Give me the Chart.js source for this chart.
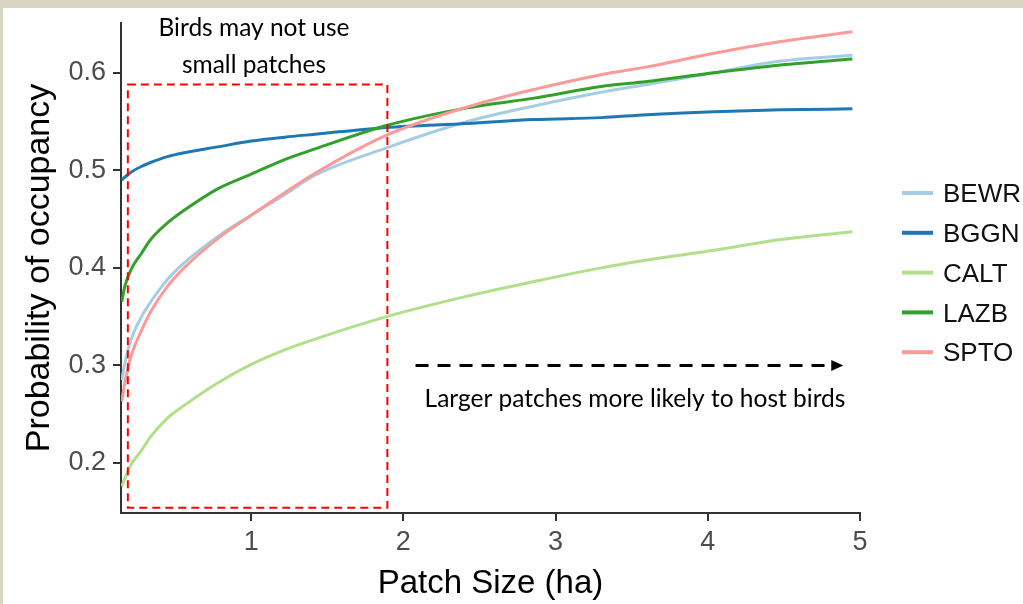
<!DOCTYPE html>
<html>
<head>
<meta charset="utf-8">
<script src="https://cdn.jsdelivr.net/npm/chart.js@4.4.1/dist/chart.umd.min.js"></script>
<style>
  html, body { margin: 0; padding: 0; background: #d8d6c2; }
  #wrap { position: absolute; left: 3px; top: 8px; width: 1020px; height: 596px; background: #fff; }
</style>
</head>
<body>
<div id="wrap"><canvas id="myChart"></canvas></div>
<script>
// patch size (ha) where the curves were read
const patchSize = [0.15, 0.17, 0.21, 0.28, 0.34, 0.45, 0.56, 0.78, 1.0, 1.22, 1.42, 1.89, 2.42, 2.86, 3.3, 3.6, 4.04, 4.48, 4.95];

// probability of occupancy per species
const BEWR = [0.285, 0.302, 0.326, 0.350, 0.365, 0.388, 0.405, 0.432, 0.454, 0.475, 0.495, 0.523, 0.550, 0.566, 0.580, 0.588, 0.600, 0.612, 0.618];
const BGGN = [0.490, 0.493, 0.498, 0.504, 0.508, 0.514, 0.518, 0.524, 0.530, 0.534, 0.537, 0.544, 0.548, 0.552, 0.554, 0.557, 0.560, 0.562, 0.563];
const CALT = [0.176, 0.184, 0.198, 0.213, 0.227, 0.246, 0.259, 0.282, 0.301, 0.316, 0.327, 0.350, 0.371, 0.386, 0.400, 0.408, 0.418, 0.429, 0.437];
const LAZB = [0.365, 0.381, 0.398, 0.415, 0.429, 0.446, 0.459, 0.481, 0.496, 0.511, 0.522, 0.546, 0.564, 0.574, 0.586, 0.591, 0.600, 0.608, 0.614];
const SPTO = [0.263, 0.282, 0.309, 0.336, 0.355, 0.381, 0.400, 0.430, 0.454, 0.477, 0.497, 0.536, 0.565, 0.583, 0.598, 0.606, 0.620, 0.632, 0.642];

const species = ['BEWR', 'BGGN', 'CALT', 'LAZB', 'SPTO'];
const seriesValues = [BEWR, BGGN, CALT, LAZB, SPTO];
const colors = ['#a6cee3', '#1f78b4', '#b2df8a', '#33a02c', '#fb9a99'];

const xTicks = [1, 2, 3, 4, 5];
const yTicks = [0.2, 0.3, 0.4, 0.5, 0.6];

// boxes / arrow in data units
const smallBox = { x0: 0.19, x1: 1.895, y0: 0.154, y1: 0.588 };
const bigArrow = { x0: 2.08, x1: 4.89, y: 0.30 };

const sansFont = '"Liberation Sans", Arial, sans-serif';
const noteFont = 'Lato, "Open Sans", sans-serif';

const datasets = species.map((name, i) => ({
    label: name,
    data: patchSize.map((x, j) => ({ x: x, y: seriesValues[i][j] })),
    borderColor: colors[i],
    backgroundColor: colors[i],
    borderWidth: 3,
    pointRadius: 0,
    cubicInterpolationMode: 'monotone',
    order: species.length - i
}));

// legend on the right, drawn by hand
const sideLegend = {
    id: 'sideLegend',
    afterDraw(chart) {
        const ctx = chart.ctx;
        ctx.save();
        ctx.font = '26px ' + sansFont;
        ctx.textBaseline = 'middle';
        chart.data.datasets.forEach((ds, i) => {
            const y = 185 + i * 39.8;
            ctx.fillStyle = ds.borderColor;
            ctx.fillRect(899, y - 2, 31, 4);
            ctx.fillStyle = '#111';
            ctx.fillText(ds.label, 940, y + 2);
        });
        ctx.restore();
    }
};

// red dashed box, dashed arrow and the notes
const notes = {
    id: 'notes',
    afterDatasetsDraw(chart) {
        const ctx = chart.ctx;
        const xs = chart.scales.x, ys = chart.scales.y;
        ctx.save();
        // small patch box
        ctx.strokeStyle = '#ff0000';
        ctx.lineWidth = 2;
        ctx.setLineDash([8, 5]);
        const bx0 = xs.getPixelForValue(smallBox.x0), bx1 = xs.getPixelForValue(smallBox.x1);
        const by0 = ys.getPixelForValue(smallBox.y1), by1 = ys.getPixelForValue(smallBox.y0);
        ctx.strokeRect(bx0, by0, bx1 - bx0, by1 - by0);

        // arrow
        const ax0 = xs.getPixelForValue(bigArrow.x0), ax1 = xs.getPixelForValue(bigArrow.x1);
        const ay = ys.getPixelForValue(bigArrow.y);
        ctx.strokeStyle = '#000';
        ctx.lineWidth = 3;
        ctx.setLineDash([13, 9]);
        ctx.beginPath();
        ctx.moveTo(ax0, ay);
        ctx.lineTo(ax1 - 12, ay);
        ctx.stroke();
        ctx.setLineDash([]);
        ctx.fillStyle = '#000';
        ctx.beginPath();
        ctx.moveTo(ax1, ay);
        ctx.lineTo(ax1 - 12, ay - 5.5);
        ctx.lineTo(ax1 - 12, ay + 5.5);
        ctx.closePath();
        ctx.fill();

        // text
        ctx.font = '24.5px ' + noteFont;
        ctx.textAlign = 'center';
        ctx.textBaseline = 'alphabetic';
        ctx.fillStyle = '#000';
        ctx.fillText('Birds may not use', 251, 28);
        ctx.fillText('small patches', 251, 65);
        ctx.fillText('Larger patches more likely to host birds', 632, 399);
        ctx.restore();
    }
};

const chartConfig = {
    type: 'line',
    data: { datasets: datasets },
    options: {
        responsive: true,
        maintainAspectRatio: false,
        animation: false,
        layout: { padding: { left: 0, top: 15, right: 163, bottom: 0 } },
        plugins: {
            legend: { display: false },
            tooltip: { enabled: false }
        },
        scales: {
            x: {
                type: 'linear',
                min: 0.145,
                max: 5,
                afterBuildTicks: s => { s.ticks = xTicks.map(v => ({ value: v })); },
                afterFit: s => { s.height = 91; },
                grid: { display: true, drawOnChartArea: false, drawTicks: true, tickLength: 8, color: '#333', lineWidth: 2 },
                border: { display: true, color: '#333', width: 2 },
                ticks: { color: '#4d4d4d', font: { size: 27, family: sansFont }, padding: 5, maxRotation: 0, callback: v => String(v) },
                title: { display: true, text: 'Patch Size (ha)', color: '#000', font: { size: 33, family: sansFont }, padding: { top: 0, bottom: 0 } }
            },
            y: {
                type: 'linear',
                min: 0.1487,
                max: 0.651,
                afterBuildTicks: s => { s.ticks = yTicks.map(v => ({ value: v })); },
                afterFit: s => { s.width = 118; },
                grid: { display: true, drawOnChartArea: false, drawTicks: true, tickLength: 8, color: '#333', lineWidth: 2 },
                border: { display: true, color: '#333', width: 2 },
                ticks: { color: '#4d4d4d', font: { size: 27, family: sansFont, lineHeight: 0.5 }, padding: 7, callback: v => v.toFixed(1) },
                title: { display: true, text: 'Probability of occupancy', color: '#000', font: { size: 34, family: sansFont }, padding: { top: 16, bottom: 0 } }
            }
        }
    },
    plugins: [notes, sideLegend]
};

new Chart('myChart', chartConfig);
</script>
</body>
</html>
